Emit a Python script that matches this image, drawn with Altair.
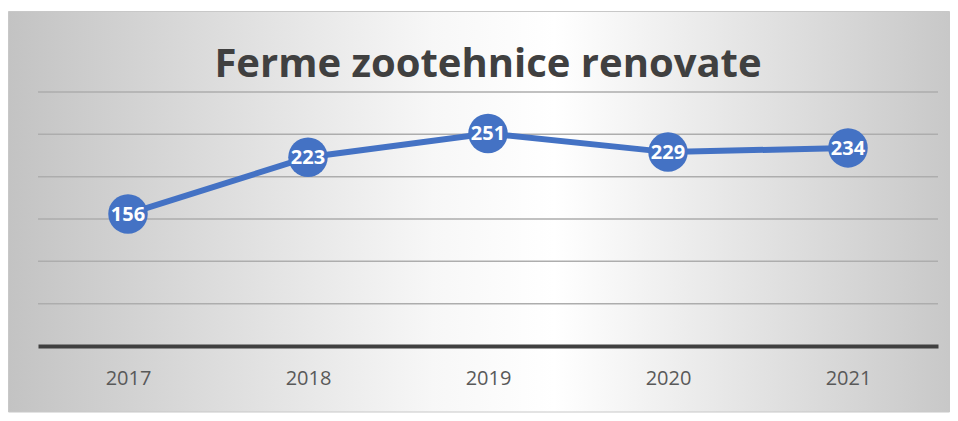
import altair as alt
import pandas as pd

years = ["2017", "2018", "2019", "2020", "2021"]
values = [156, 223, 251, 229, 234]
y_ticks = [50, 100, 150, 200, 250, 300]
title_text = "Ferme zootehnice renovate"

df = pd.DataFrame({"year": years, "value": values})
grid_df = pd.DataFrame({"tick": y_ticks})

BLUE = "#4472C4"

grad = alt.Gradient(
    gradient="linear",
    stops=[
        alt.GradientStop(color="#c3c3c3", offset=0),
        alt.GradientStop(color="#f7f7f7", offset=0.45),
        alt.GradientStop(color="#ffffff", offset=0.58),
        alt.GradientStop(color="#c8c8c8", offset=1),
    ],
    x1=0, y1=0.5, x2=1, y2=0.5,
)

frame = alt.Chart(pd.DataFrame({"d": [0]})).mark_rect(
    fill=grad, stroke="#c8c8c8", strokeWidth=1
).encode(
    x=alt.value(-29.5), x2=alt.value(911.5), y=alt.value(-80.5), y2=alt.value(320)
)

title = alt.Chart(pd.DataFrame({"t": [title_text]})).mark_text(
    font="Open Sans", fontSize=40, fontWeight="bold", color="#404040",
    align="center", baseline="alphabetic",
).encode(x=alt.value(450), y=alt.value(-15), text="t:N")

x_enc = alt.X(
    "year:O",
    sort=years,
    title=None,
    axis=alt.Axis(
        labelAngle=0,
        labelFont="Open Sans",
        labelFontSize=20,
        labelColor="#595959",
        labelPadding=22,
        ticks=False,
        domainColor="#404040",
        domainWidth=4,
        grid=False,
        zindex=1,
    ),
)
y_scale = alt.Scale(domain=[0, 300], nice=False, zero=True)
y_enc = alt.Y("value:Q", title=None, scale=y_scale, axis=None)

grid = alt.Chart(grid_df).mark_rule(color="#adadad", strokeWidth=1.5).encode(
    y=alt.Y("tick:Q", scale=y_scale, axis=None)
)

base = alt.Chart(df)

line = base.mark_line(color=BLUE, strokeWidth=6).encode(x=x_enc, y=y_enc)
points = base.mark_circle(color=BLUE, opacity=1, size=1560).encode(x=x_enc, y=y_enc)
labels = base.mark_text(
    color="white", font="Open Sans", fontWeight="bold", fontSize=20, baseline="middle", dy=1
).encode(x=x_enc, y=y_enc, text="value:Q")

chart = alt.layer(frame, title, grid, line, points, labels).properties(
    width=900,
    height=254,
    autosize=alt.AutoSizeParams(type="none"),
    padding={"left": 30, "top": 84, "right": 12, "bottom": 67},
).configure_view(stroke=None).configure(background="white")

chart.save("out.html", embed_options={"renderer": "svg", "actions": False})
